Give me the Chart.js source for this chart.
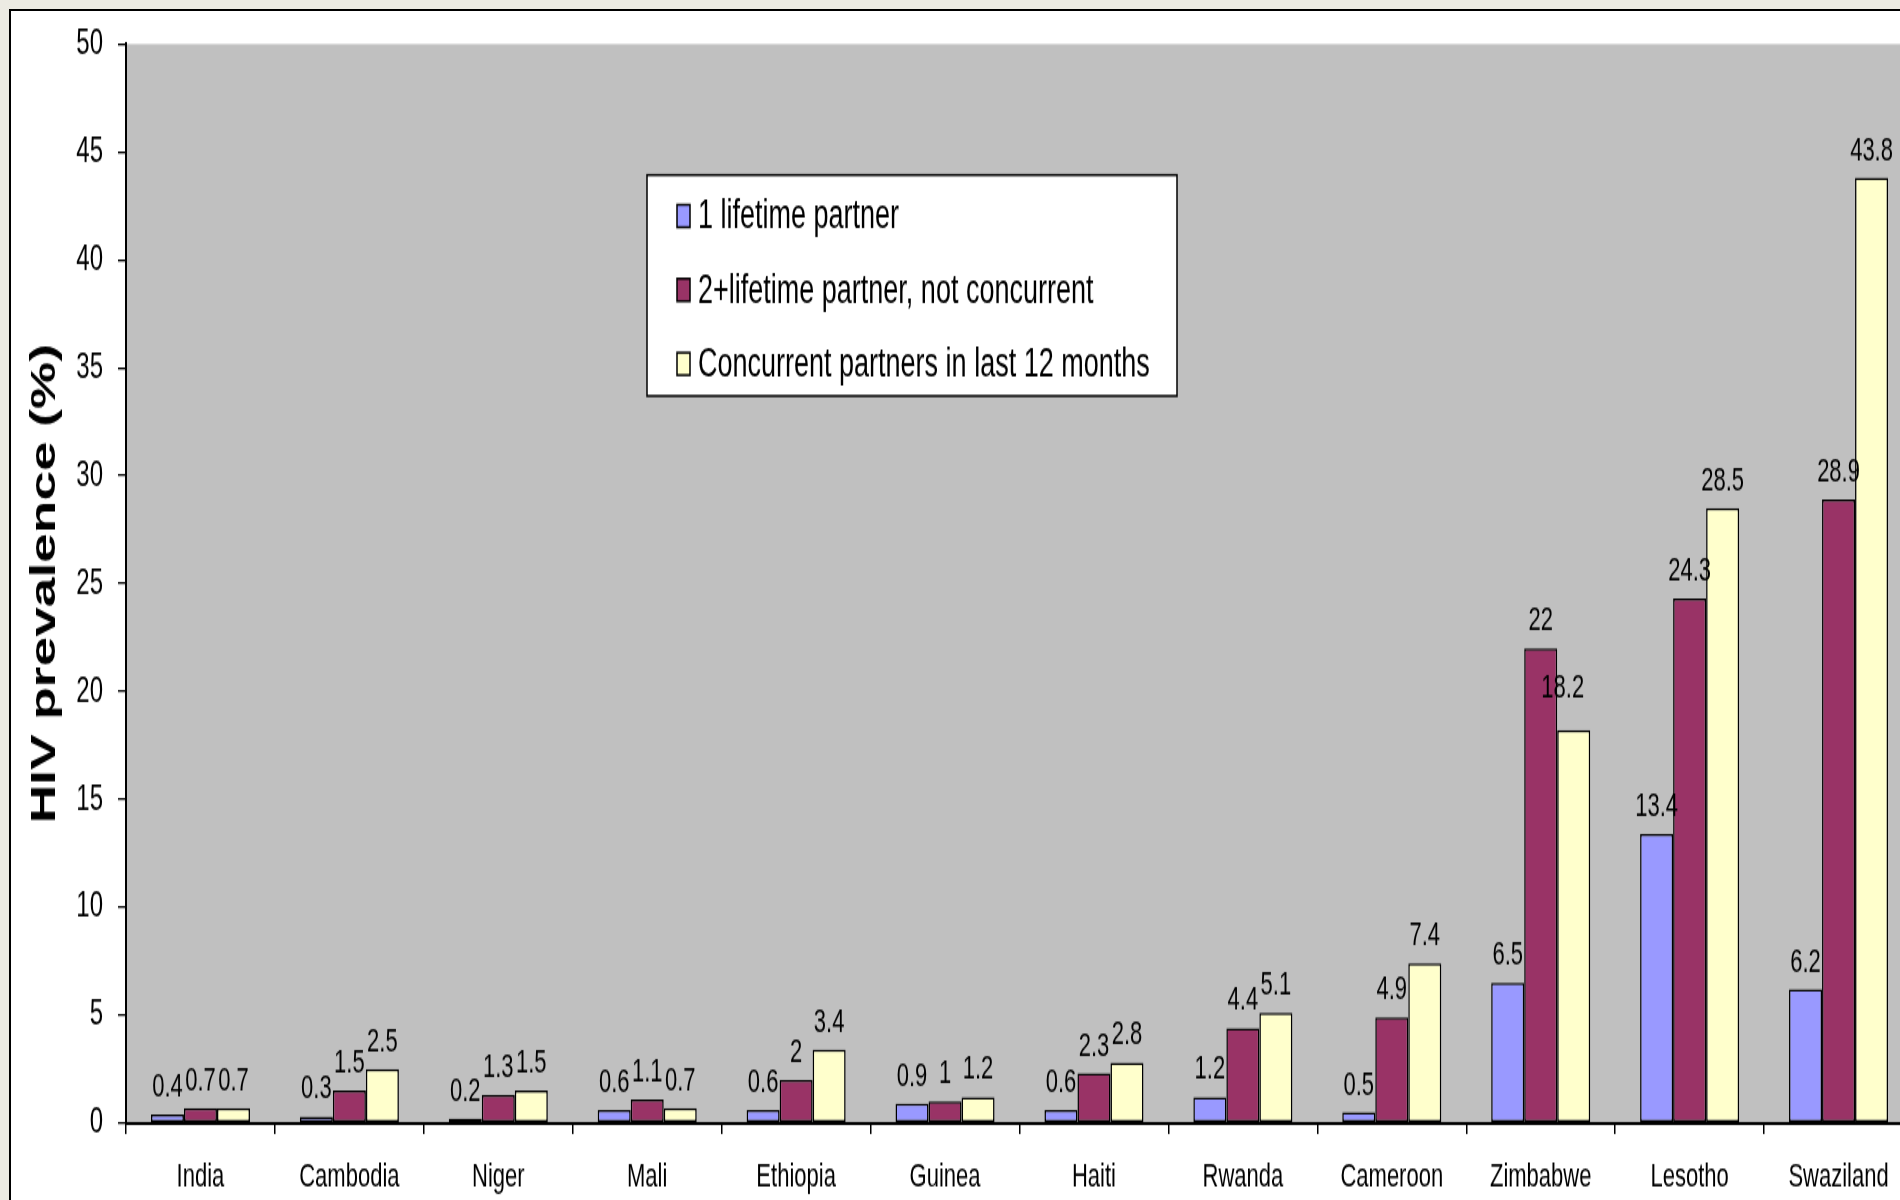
<!DOCTYPE html>
<html>
<head>
<meta charset="utf-8">
<title>HIV prevalence by partnership type</title>
<script src="https://cdn.jsdelivr.net/npm/chart.js@4.4.0/dist/chart.umd.min.js"></script>
<style>
  html, body { margin: 0; padding: 0; width: 1900px; height: 1200px; overflow: hidden; background: #ecebe3; }
  #frame { position: absolute; left: 9px; top: 9px; width: 2000px; height: 1300px; background: #fff;
           border-left: 2px solid #000; border-top: 2px solid #000; }
  /* the chart is laid out at 2/3 height and stretched vertically, giving the tall, narrow lettering */
  #stage { position: absolute; left: 0; top: 0; width: 1930px; height: 800px;
           transform: scaleY(1.5); transform-origin: 0 0; }
</style>
</head>
<body>
<div id="frame"></div>
<div id="stage"><canvas id="chart"></canvas></div>
<script>
const categories = ['India', 'Cambodia', 'Niger', 'Mali', 'Ethiopia', 'Guinea', 'Haiti',
                    'Rwanda', 'Cameroon', 'Zimbabwe', 'Lesotho', 'Swaziland'];
const oneLifetimePartner = [0.4, 0.3, 0.2, 0.6, 0.6, 0.9, 0.6, 1.2, 0.5, 6.5, 13.4, 6.2];
const twoPlusNotConcurrent = [0.7, 1.5, 1.3, 1.1, 2, 1, 2.3, 4.4, 4.9, 22, 24.3, 28.9];
const concurrentLast12m = [0.7, 2.5, 1.5, 0.7, 3.4, 1.2, 2.8, 5.1, 7.4, 18.2, 28.5, 43.8];
const seriesNames = ['1 lifetime partner', '2+lifetime partner, not concurrent',
                     'Concurrent partners in last 12 months'];
const seriesColors = ['#9999ff', '#993366', '#ffffcc'];
const yMin = 0, yMax = 50, yStep = 5;
const yTitle = 'HIV prevalence (%)';

const FONT = '"Liberation Sans", Arial, Helvetica, sans-serif';

// grey plot background
const plotBackground = {
  id: 'plotBackground',
  beforeDraw(chart) {
    const { ctx, chartArea: a } = chart;
    ctx.save();
    ctx.fillStyle = '#c0c0c0';
    ctx.fillRect(a.left, a.top, a.right - a.left, a.bottom - a.top);
    ctx.restore();
  }
};

// value printed above every bar; one label was dragged aside to clear its neighbour
const barValues = {
  id: 'barValues',
  afterDatasetsDraw(chart) {
    const { ctx } = chart;
    const moved = { 'Zimbabwe/2': { dx: -11, dy: -9.5 } };
    ctx.save();
    ctx.font = '22px ' + FONT;
    ctx.fillStyle = '#000';
    ctx.textAlign = 'center';
    ctx.textBaseline = 'alphabetic';
    chart.data.datasets.forEach((ds, i) => {
      chart.getDatasetMeta(i).data.forEach((bar, j) => {
        const m = moved[chart.data.labels[j] + '/' + i] || { dx: 0, dy: 0 };
        ctx.fillText(String(ds.data[j]), bar.x + m.dx, bar.y - 12 + m.dy);
      });
    });
    ctx.restore();
  }
};

// boxed legend inside the plot
const boxedLegend = {
  id: 'boxedLegend',
  afterDraw(chart) {
    const { ctx } = chart;
    const x = 647, y = 116.7, w = 530, h = 147.3;
    ctx.save();
    ctx.fillStyle = '#fff';
    ctx.fillRect(x, y, w, h);
    ctx.strokeStyle = '#000';
    ctx.lineWidth = 1.5;
    ctx.strokeRect(x, y, w, h);
    ctx.font = '27px ' + FONT;
    ctx.textAlign = 'left';
    ctx.textBaseline = 'middle';
    chart.data.datasets.forEach((ds, i) => {
      const cy = 144 + i * 49.3;
      ctx.fillStyle = ds.backgroundColor;
      ctx.fillRect(677, cy - 7.5, 13, 15);
      ctx.lineWidth = 1.5;
      ctx.strokeRect(677, cy - 7.5, 13, 15);
      ctx.fillStyle = '#000';
      ctx.fillText(ds.label, 698, cy + 1);
    });
    ctx.restore();
  }
};

const seriesData = [oneLifetimePartner, twoPlusNotConcurrent, concurrentLast12m];

new Chart(document.getElementById('chart'), {
  type: 'bar',
  data: {
    labels: categories,
    datasets: seriesData.map((d, i) => ({
      label: seriesNames[i],
      data: d,
      backgroundColor: seriesColors[i],
      borderColor: '#000',
      borderWidth: 1.5,
      borderSkipped: false,
      barPercentage: 1.0,
      categoryPercentage: 0.665
    }))
  },
  options: {
    responsive: true,
    maintainAspectRatio: false,
    animation: false,
    events: [],
    layout: { padding: { left: 0, right: 17, top: 27.3, bottom: 0 } },
    plugins: { legend: { display: false }, tooltip: { enabled: false } },
    scales: {
      x: {
        offset: true,
        grid: { display: true, drawOnChartArea: false, offset: true, color: '#000', lineWidth: 1.5, tickLength: 7.3 },
        border: { display: true, color: '#000', width: 2 },
        ticks: { color: '#000', font: { family: FONT, size: 22 }, padding: 16, maxRotation: 0, autoSkip: false },
        afterFit(scale) { scale.height = 51.3; }
      },
      y: {
        min: yMin, max: yMax,
        grid: { display: true, drawOnChartArea: false, color: '#000', lineWidth: 1.3, tickLength: 8 },
        border: { display: true, color: '#000', width: 2 },
        ticks: { stepSize: yStep, color: '#000', font: { family: FONT, size: 24 }, padding: 15 },
        title: { display: true, text: yTitle, color: '#000',
                 font: { family: FONT, size: 35.5, weight: 'bold' }, padding: { top: 24, bottom: 0 } },
        afterFit(scale) { scale.width = 126; }
      }
    }
  },
  plugins: [plotBackground, barValues, boxedLegend]
});
</script>
</body>
</html>
